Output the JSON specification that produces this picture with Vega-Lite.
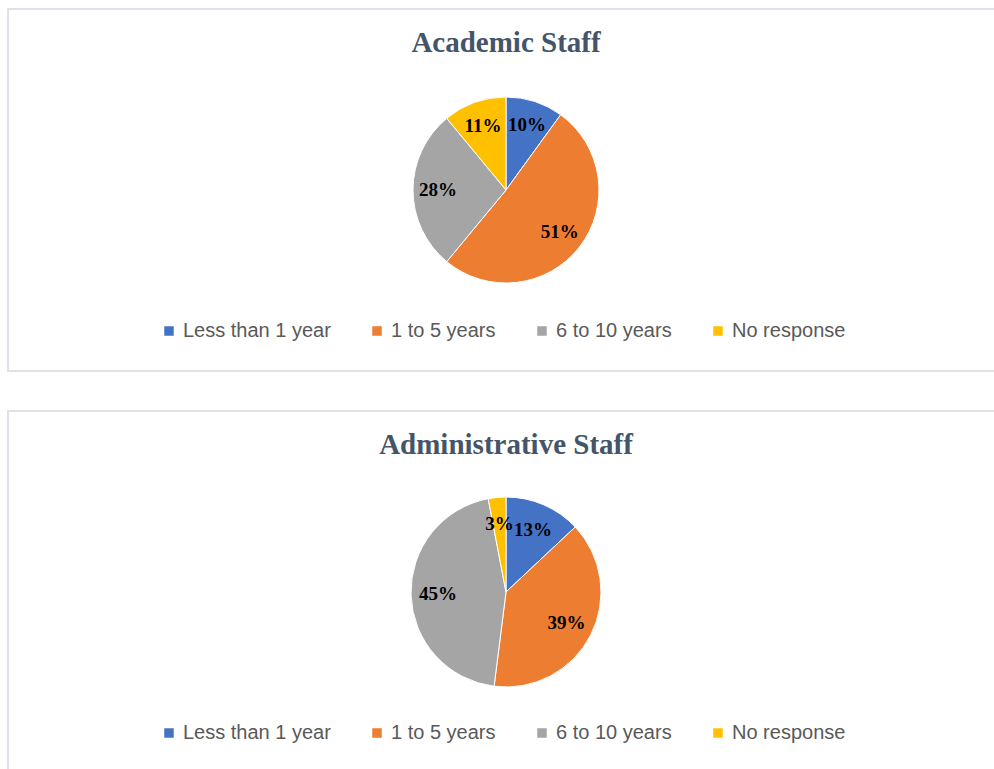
{
  "$schema": "https://vega.github.io/schema/vega-lite/v6.json",
  "padding": {"left": 7, "top": 8, "right": 0, "bottom": 0},
  "background": "white",
  "spacing": 38,
  "config": {
    "view": {"stroke": null},
    "title": {"font": "Liberation Serif", "fontSize": 29, "fontWeight": "bold", "color": "#44546A", "anchor": "middle", "offset": -50},
    "legend": {
      "orient": "none", "direction": "horizontal", "legendX": 151, "legendY": 312,
      "title": null, "symbolType": "square", "symbolSize": 90, "symbolStrokeWidth": 0,
      "labelFont": "Liberation Sans", "labelFontSize": 20, "labelColor": "#595959",
      "labelOffset": 4, "columnPadding": 36, "gridAlign": "none"
    }
  },
  "resolve": {"scale": {"color": "independent"}, "legend": {"color": "independent"}},
  "vconcat": [
    {
      "title": "Academic Staff",
      "width": 996, "height": 362,
      "data": {"values": [
        {"category": "Less than 1 year", "k": 1, "share": 0.10},
        {"category": "1 to 5 years", "k": 2, "share": 0.51},
        {"category": "6 to 10 years", "k": 3, "share": 0.28},
        {"category": "No response", "k": 4, "share": 0.11}
      ]},
      "layer": [
        {
          "transform": [{"filter": "datum.k == 1"}],
          "mark": {"type": "rect", "fill": "white", "fillOpacity": 0, "stroke": "#dde2ea", "strokeWidth": 2},
          "encoding": {}
        },
        {
          "mark": {"type": "arc", "outerRadius": 93, "stroke": "white", "strokeWidth": 1},
          "encoding": {
            "theta": {"field": "share", "type": "quantitative", "stack": true},
            "order": {"field": "k", "type": "quantitative"},
            "color": {"field": "category", "type": "nominal",
              "scale": {"domain": ["Less than 1 year", "1 to 5 years", "6 to 10 years", "No response"],
                        "range": ["#4472C4", "#ED7D31", "#A5A5A5", "#FFC000"]}}
          }
        },
        {
          "mark": {"type": "text", "radius": 68, "font": "Liberation Serif", "fontSize": 19, "fontWeight": "bold", "color": "black"},
          "encoding": {
            "theta": {"field": "share", "type": "quantitative", "stack": true},
            "order": {"field": "k", "type": "quantitative"},
            "text": {"field": "share", "type": "quantitative", "format": ".0%"}
          }
        }
      ]
    },
    {
      "title": "Administrative Staff",
      "width": 996, "height": 362,
      "data": {"values": [
        {"category": "Less than 1 year", "k": 1, "share": 0.13},
        {"category": "1 to 5 years", "k": 2, "share": 0.39},
        {"category": "6 to 10 years", "k": 3, "share": 0.45},
        {"category": "No response", "k": 4, "share": 0.03}
      ]},
      "layer": [
        {
          "transform": [{"filter": "datum.k == 1"}],
          "mark": {"type": "rect", "fill": "white", "fillOpacity": 0, "stroke": "#dde2ea", "strokeWidth": 2},
          "encoding": {}
        },
        {
          "mark": {"type": "arc", "outerRadius": 95, "stroke": "white", "strokeWidth": 1},
          "encoding": {
            "theta": {"field": "share", "type": "quantitative", "stack": true},
            "order": {"field": "k", "type": "quantitative"},
            "color": {"field": "category", "type": "nominal",
              "scale": {"domain": ["Less than 1 year", "1 to 5 years", "6 to 10 years", "No response"],
                        "range": ["#4472C4", "#ED7D31", "#A5A5A5", "#FFC000"]}}
          }
        },
        {
          "mark": {"type": "text", "radius": 68, "font": "Liberation Serif", "fontSize": 19, "fontWeight": "bold", "color": "black"},
          "encoding": {
            "theta": {"field": "share", "type": "quantitative", "stack": true},
            "order": {"field": "k", "type": "quantitative"},
            "text": {"field": "share", "type": "quantitative", "format": ".0%"}
          }
        }
      ]
    }
  ]
}
